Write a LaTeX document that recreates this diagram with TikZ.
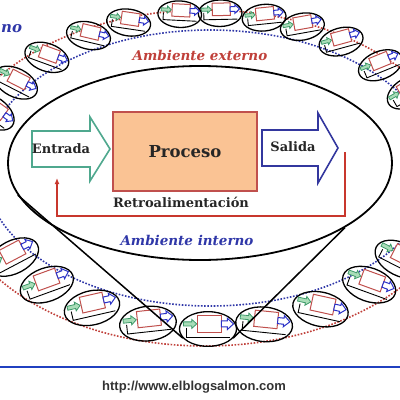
\documentclass[tikz,border=0pt]{standalone}
\usepackage{fontspec}
\setmainfont{DejaVu Serif}
\newfontfamily\urlfont{Liberation Sans}
\usetikzlibrary{shapes.geometric,arrows.meta}

\definecolor{procfill}{HTML}{FAC394}
\definecolor{procdraw}{HTML}{C0504D}
\definecolor{fbred}{HTML}{C8372D}
\definecolor{inblue}{HTML}{2F37A8}
\definecolor{outred}{HTML}{C0403A}
\definecolor{entgreen}{HTML}{4FA88E}
\definecolor{salblue}{HTML}{33379E}
\definecolor{minigreenfill}{HTML}{A9DDB8}
\definecolor{minigreendraw}{HTML}{3E9A6A}
\definecolor{miniblue}{HTML}{2B32C8}
\definecolor{linkblue}{HTML}{2040C0}
\definecolor{urlgray}{HTML}{333333}

\tikzset{
  minisys/.pic={
    % outline of the small system
    \node[draw, line width=1.3pt, ellipse, minimum width=56, minimum height=34, inner sep=0pt] (-ring) at (0,0) {};
    % feedback
    \draw[line width=0.9pt] (-21,-1) -- (-21,8) -- (22,8);
    % input, process, output
    \draw[draw=minigreendraw, fill=minigreenfill, line width=0.8pt] (-24,-7) -- (-16,-7) -- (-16,-9.5) -- (-11,-5) -- (-16,-0.5) -- (-16,-3) -- (-24,-3) -- cycle;
    \draw[draw=procdraw, fill=white, line width=1pt] (-10,-13) rectangle (13,3);
    \draw[draw=miniblue, fill=white, line width=1pt] (13,-8) -- (19,-8) -- (19,-10.5) -- (25,-5) -- (19,0.5) -- (19,-2) -- (13,-2) -- cycle;
  }
}

\begin{document}
\begin{tikzpicture}[x=1pt, y=-1pt,
    ring/.style={line width=1.6pt, dash pattern=on 1.6pt off 1.6pt},
    bigarrow/.style={line width=1.6pt, fill=white, line join=miter},
    lbl/.style={font=\bfseries\fontsize{13}{15}\selectfont, text=black!85},
    envlbl/.style={font=\bfseries\itshape\fontsize{13.5}{16}\selectfont}]
    % Page
    \useasboundingbox (0,0) rectangle (400,400);
    \clip (0,0) rectangle (400,400);

    % Environment boundaries
    \draw[ring, outred] (205,178) ellipse [x radius=258, y radius=168];
    \draw[ring, inblue] (210,168) ellipse [x radius=226, y radius=138];

    % Small systems along the boundary
    \foreach \t in {30,42,55,66,76,87,97,110,121,134,146,158,213,226,240,255,284,299,314,326,340} {
        \pgfmathsetmacro\rot{-0.6*atan(-0.68*cos(\t)/sin(\t))}
        \pgfmathsetmacro\sc{0.9-0.12*sin(\t)}
        \pic[rotate=\rot, scale=\sc, transform shape] at ({208+232*cos(\t)},{171-158*sin(\t)}) {minisys};
    }
    \pic[scale=1.02, transform shape] (focus) at (208,329) {minisys};

    % System and zoom lines
    \node[draw, ellipse, line width=1.8pt, minimum width=384, minimum height=194] (sys) at (200,163) {};
    \draw[line width=1.5pt] (sys.190) -- (focus-ring.200);
    \draw[line width=1.5pt] (sys.336) -- (focus-ring.340);

    % Input, process, output
    \draw[bigarrow, draw=entgreen] (32,131) -- (90,131) -- (90,117) -- (110,149) -- (90,181) -- (90,167) -- (32,167) -- cycle;
    \node[lbl] (entrada) at (61,149) {Entrada};
    \node[draw=procdraw, fill=procfill, line width=1.5pt, minimum width=144, minimum height=79,
          font=\bfseries\fontsize{16.5}{18}\selectfont, text=black!85] (proceso) at (185,151.5) {Proceso};
    \draw[bigarrow, draw=salblue] (262,130) -- (318,130) -- (318,113) -- (338,148) -- (318,183) -- (318,166) -- (262,166) -- cycle;
    \node[lbl] (salida) at (293,147) {Salida};

    % Feedback
    \coordinate (fbout) at (345,152);
    \coordinate (fbin) at (57,178);
    \draw[fbred, line width=1.6pt, -{Latex[length=6pt,width=5pt]}] (fbout) |- (57,216) -- (fbin);
    \node[lbl] (retro) at (181,202) {Retroalimentación};

    % Environment labels
    \node[envlbl, outred] (externo) at (200,55) {Ambiente externo};
    \node[envlbl, inblue] (interno) at (187,240) {Ambiente interno};
    \node[envlbl, inblue, anchor=west, inner sep=0pt, font=\bfseries\itshape\fontsize{15}{18}\selectfont] (nolbl) at (1,29) {no};

    % Footer
    \draw[linkblue, line width=2.5pt] (0,367) -- (400,367);
    \node[font=\urlfont\bfseries\fontsize{13}{15}\selectfont, text=urlgray] (url) at (194,387) {http://www.elblogsalmon.com};
\end{tikzpicture}
\end{document}
